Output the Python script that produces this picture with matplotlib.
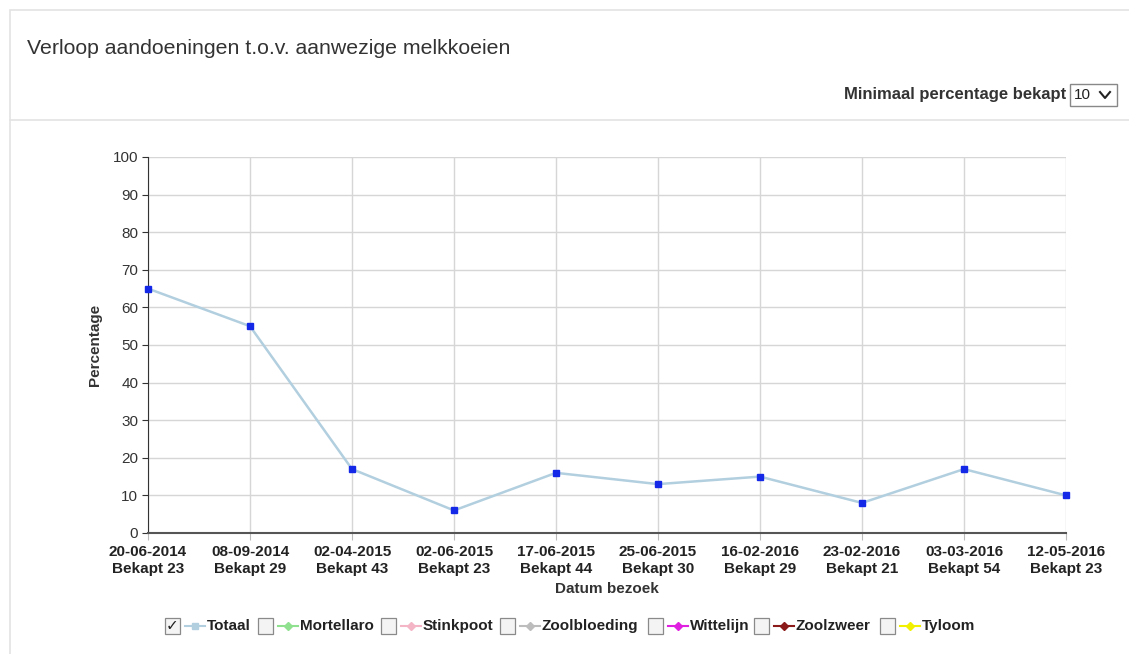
import matplotlib
matplotlib.use("Agg")
import matplotlib.pyplot as plt
from matplotlib.patches import Rectangle
from matplotlib.lines import Line2D

dates = ["20-06-2014", "08-09-2014", "02-04-2015", "02-06-2015", "17-06-2015",
         "25-06-2015", "16-02-2016", "23-02-2016", "03-03-2016", "12-05-2016"]
bekapt = [23, 29, 43, 23, 44, 30, 29, 21, 54, 23]
totaal = [65, 55, 17, 6, 16, 13, 15, 8, 17, 10]
yticks = [0, 10, 20, 30, 40, 50, 60, 70, 80, 90, 100]
series_names = ["Totaal", "Mortellaro", "Stinkpoot", "Zoolbloeding", "Wittelijn", "Zoolzweer", "Tyloom"]
series_colors = ["#b2cfdf", "#8fe08f", "#f4b6c6", "#bdbdbd", "#e020e0", "#8b1a1a", "#f0f000"]
series_checked = [True, False, False, False, False, False, False]

FONT = ["Liberation Sans", "DejaVu Sans"]
plt.rcParams['font.family'] = FONT

W, H = 1129, 654
fig = plt.figure(figsize=(W / 100, H / 100), dpi=100)

def fx(px):
    return px / W

def fy(py):
    return 1 - py / H

# Card frame
fig.patches.append(Rectangle((fx(10), fy(660)), fx(1140) - fx(10), fy(10) - fy(660),
                             transform=fig.transFigure, fill=False, edgecolor="#e3e3e3", lw=1.2))
fig.lines.append(Line2D([fx(10), fx(1129)], [fy(120), fy(120)], transform=fig.transFigure,
                        color="#e3e3e3", lw=1.2))

fig.text(fx(27), fy(48), "Verloop aandoeningen t.o.v. aanwezige melkkoeien",
         fontsize=15.3, color="#333333", va="center", ha="left")
fig.text(fx(1066), fy(95), "Minimaal percentage bekapt", fontsize=12, fontweight="bold",
         color="#333333", va="center", ha="right")
# dropdown
fig.patches.append(Rectangle((fx(1070), fy(106)), fx(1117) - fx(1070), fy(84) - fy(106),
                             transform=fig.transFigure, fill=True, facecolor="white",
                             edgecolor="#888888", lw=1))
fig.text(fx(1074), fy(95), "10", fontsize=11, color="#222222", va="center", ha="left")
fig.lines.append(Line2D([fx(1100), fx(1105), fx(1110)], [fy(92), fy(98), fy(92)],
                        transform=fig.transFigure, color="#222222", lw=1.5))

# Axes
left, right, top, bottom = 148, 1066, 157, 533
ax = fig.add_axes([fx(left), fy(bottom), fx(right) - fx(left), fy(top) - fy(bottom)])
x = list(range(len(dates)))
ax.plot(x, totaal, color=series_colors[0], lw=1.8, zorder=3, clip_on=False)
ax.plot(x, totaal, ls="none", marker="s", markersize=5, color="#1428e8", zorder=4, clip_on=False)
ax.set_xlim(0, len(dates) - 1)
ax.set_ylim(0, 100)
ax.set_yticks(yticks)
ax.set_yticklabels([str(v) for v in yticks], fontsize=11, color="#333333")
ax.set_xticks(x)
ax.set_xticklabels([f"{d}\nBekapt {b}" for d, b in zip(dates, bekapt)], fontsize=11,
                   color="#222222", fontweight="bold", linespacing=1.25)
ax.grid(True, color="#d6d6d6", lw=1)
ax.set_axisbelow(True)
for s in ["top", "right"]:
    ax.spines[s].set_visible(False)
ax.spines["left"].set_color("#333333")
ax.spines["bottom"].set_color("#555555")
ax.spines["bottom"].set_linewidth(1.5)
ax.tick_params(axis="y", length=4, color="#333333", pad=3)
ax.tick_params(axis="x", length=5, color="#bbbbbb", pad=4)
ax.set_xlabel("Datum bezoek", fontsize=11, fontweight="bold", color="#333333", labelpad=4)
ax.set_ylabel("Percentage", fontsize=11, fontweight="bold", color="#333333", labelpad=8)

# Legend (custom, HTML style)
legend_x = [165, 258, 381, 500, 648, 754, 880]
for name, col, chk, lx in zip(series_names, series_colors, series_checked, legend_x):
    yc = 626
    fig.patches.append(Rectangle((fx(lx), fy(yc + 8)), fx(15), fy(0) - fy(16),
                                 transform=fig.transFigure, facecolor="#f4f4f4",
                                 edgecolor="#8a8a8a", lw=0.9))
    if chk:
        fig.text(fx(lx + 7.5), fy(yc), "\u2713", fontsize=11, ha="center", va="center",
                 color="#222222", family=["DejaVu Sans"])
    fig.lines.append(Line2D([fx(lx + 20), fx(lx + 40)], [fy(yc), fy(yc)],
                            transform=fig.transFigure, color=col, lw=1.5))
    fig.lines.append(Line2D([fx(lx + 30)], [fy(yc)], transform=fig.transFigure,
                            color=col, marker="D" if name != "Totaal" else "s", markersize=4.5, ls="none"))
    fig.text(fx(lx + 42), fy(yc), name, fontsize=11, fontweight="bold", color="#222222",
             ha="left", va="center")

fig.savefig("out.png", dpi=100, facecolor="white")
